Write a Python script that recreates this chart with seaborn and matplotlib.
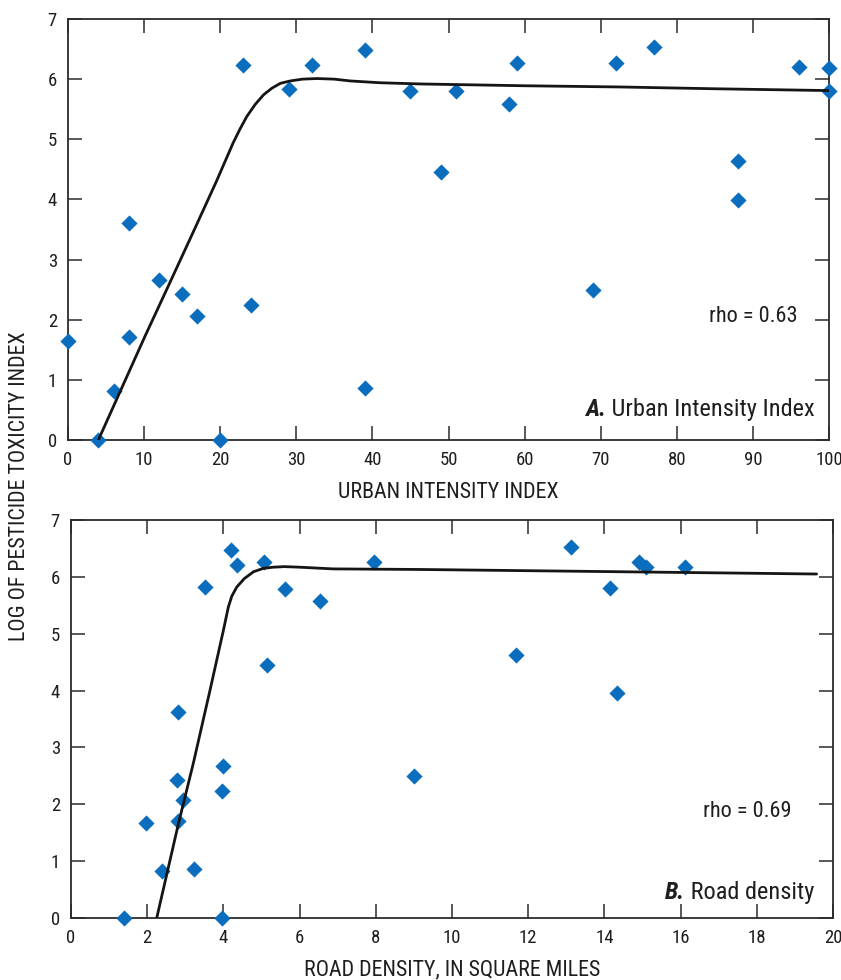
import matplotlib
matplotlib.use("Agg")
import os
import matplotlib.pyplot as plt
from matplotlib import font_manager as fm
import seaborn as sns
import pandas as pd

# Panel A: urban intensity index vs log pesticide toxicity index
urban_index = [0, 4, 6, 8, 8, 12, 15, 17, 20, 23, 24, 29, 32, 39, 39, 45, 49, 51,
               58, 59, 69, 72, 77, 88, 88, 96, 100, 100]
toxicity_a = [1.65, 0.0, 0.82, 3.61, 1.71, 2.66, 2.42, 2.07, 0.0, 6.24, 2.24, 5.83,
              6.24, 6.49, 0.87, 5.81, 4.46, 5.81, 5.58, 6.27, 2.50, 6.27, 6.54, 4.64,
              3.99, 6.21, 6.18, 5.81]

# Smoothed trend line, panel A
smooth_a_x = [3.99, 6.83, 10.1, 13.4, 16.5, 19.5, 21.7, 22.6, 23.5, 24.6, 25.7, 26.8,
              27.9, 29.2, 30.8, 32.7, 35.0, 37.1, 41.0, 46.3, 60.0, 72.5, 85.0, 99.9]
smooth_a_y = [0.0, 0.80, 1.72, 2.62, 3.47, 4.30, 4.94, 5.17, 5.38, 5.58, 5.74, 5.85,
              5.93, 5.97, 6.00, 6.01, 6.00, 5.97, 5.94, 5.92, 5.89, 5.87, 5.84, 5.81]

# Panel B: road density vs log pesticide toxicity index
road_density = [1.38, 1.97, 2.40, 2.81, 2.77, 2.93, 2.81, 3.24, 3.53, 3.99, 3.97, 3.97,
                4.20, 4.35, 5.07, 5.15, 5.62, 6.54, 7.96, 8.99, 13.12, 14.91, 15.08,
                16.12, 14.16, 11.69, 14.32]
toxicity_b = [0.0, 1.67, 0.82, 3.62, 2.42, 2.07, 1.70, 0.87, 5.83, 2.68, 2.23, 0.0,
              6.48, 6.21, 6.26, 4.45, 5.78, 5.57, 6.27, 2.50, 6.53, 6.26, 6.18, 6.18,
              5.80, 4.63, 3.96]

# Smoothed trend line, panel B
smooth_b_x = [2.25, 2.82, 3.21, 3.65, 4.00, 4.13, 4.22, 4.35, 4.55, 4.79, 5.05, 5.31,
              5.60, 6.00, 6.88, 9.16, 14.41, 19.57]
smooth_b_y = [0.0, 1.66, 2.72, 4.01, 5.06, 5.47, 5.66, 5.82, 5.97, 6.09, 6.15, 6.17,
              6.18, 6.17, 6.14, 6.13, 6.09, 6.05]

rho_a = "rho = 0.63"
rho_b = "rho = 0.69"


def narrow_family():
    """Return a condensed sans family if one is installed, else None."""
    for fam in ("Liberation Sans Narrow", "Roboto Condensed", "Open Sans Condensed"):
        try:
            path = fm.findfont(fm.FontProperties(family=fam), fallback_to_default=False)
        except Exception:
            continue
        name = os.path.basename(path).lower()
        if "narrow" in name or "condensed" in name:
            return fam
    return None


sns.set_theme(style="white")
narrow = narrow_family()
if narrow:
    FAMILY = [narrow, "DejaVu Sans"]
    SIZES = dict(tick=13.5, label=15.8, rho=16, title=17.6)
else:
    FAMILY = ["Liberation Sans", "DejaVu Sans"]
    SIZES = dict(tick=12.5, label=13.5, rho=13.5, title=15.5)
plt.rcParams["font.family"] = FAMILY
plt.rcParams["axes.unicode_minus"] = False

POINT_COLOR = "#0b6dbd"
LINE_COLOR = "#151515"
SPINE_COLOR = "#2b2b2b"
TEXT_COLOR = "#1e1e1e"

fig = plt.figure(figsize=(8.41, 9.80), dpi=100)
ax_a = fig.add_axes([68 / 841, 1 - 440 / 980, (829 - 68) / 841, (440 - 19) / 980])
ax_b = fig.add_axes([71 / 841, 1 - 918 / 980, (833 - 71) / 841, (918 - 520) / 980])

df_a = pd.DataFrame({"x": urban_index, "y": toxicity_a})
df_b = pd.DataFrame({"x": road_density, "y": toxicity_b})
sm_a = pd.DataFrame({"x": smooth_a_x, "y": smooth_a_y})
sm_b = pd.DataFrame({"x": smooth_b_x, "y": smooth_b_y})


def draw_panel(ax, pts, smooth, xmax, xstep, xlabel, rho, rho_pos, letter, title, title_pos):
    sns.scatterplot(data=pts, x="x", y="y", ax=ax, marker="D", s=68,
                    color=POINT_COLOR, linewidth=0, clip_on=False, zorder=3)
    sns.lineplot(data=smooth, x="x", y="y", ax=ax, sort=False, estimator=None,
                 color=LINE_COLOR, linewidth=2.0, zorder=4)
    ax.set_xlim(0, xmax)
    ax.set_ylim(0, 7)
    ax.set_xticks(range(0, xmax + 1, xstep))
    ax.set_yticks(range(0, 8))
    ax.tick_params(direction="in", length=10, width=1.1, color=SPINE_COLOR,
                   top=True, right=True, bottom=True, left=True,
                   labelsize=SIZES["tick"], labelcolor=TEXT_COLOR, pad=8)
    for sp in ax.spines.values():
        sp.set_color(SPINE_COLOR)
        sp.set_linewidth(1.3)
    ax.set_xlabel(xlabel, fontsize=SIZES["label"], color=TEXT_COLOR, labelpad=9)
    ax.set_ylabel("")
    ax.text(rho_pos[0], rho_pos[1], rho, transform=ax.transAxes, ha="right",
            va="center", fontsize=SIZES["rho"], color=TEXT_COLOR)
    t = ax.text(title_pos[0], title_pos[1], " " + title, transform=ax.transAxes,
                ha="right", va="center", fontsize=SIZES["title"], color=TEXT_COLOR)
    ax.annotate(letter, xy=(0, 0.5), xycoords=t, ha="right", va="center",
                fontsize=SIZES["title"], fontweight="bold", fontstyle="italic",
                color=TEXT_COLOR)


draw_panel(ax_a, df_a, sm_a, 100, 10, "URBAN INTENSITY INDEX", rho_a, (0.959, 0.293),
           "A.", "Urban Intensity Index", (0.981, 0.073))
draw_panel(ax_b, df_b, sm_b, 20, 2, "ROAD DENSITY, IN SQUARE MILES", rho_b, (0.945, 0.267),
           "B.", "Road density", (0.9755, 0.0636))

fig.text(20 / 841, 1 - 486 / 980, "LOG OF PESTICIDE TOXICITY INDEX", rotation=90,
         ha="center", va="center", fontsize=SIZES["label"], color=TEXT_COLOR)

fig.savefig("out.png", dpi=100)
